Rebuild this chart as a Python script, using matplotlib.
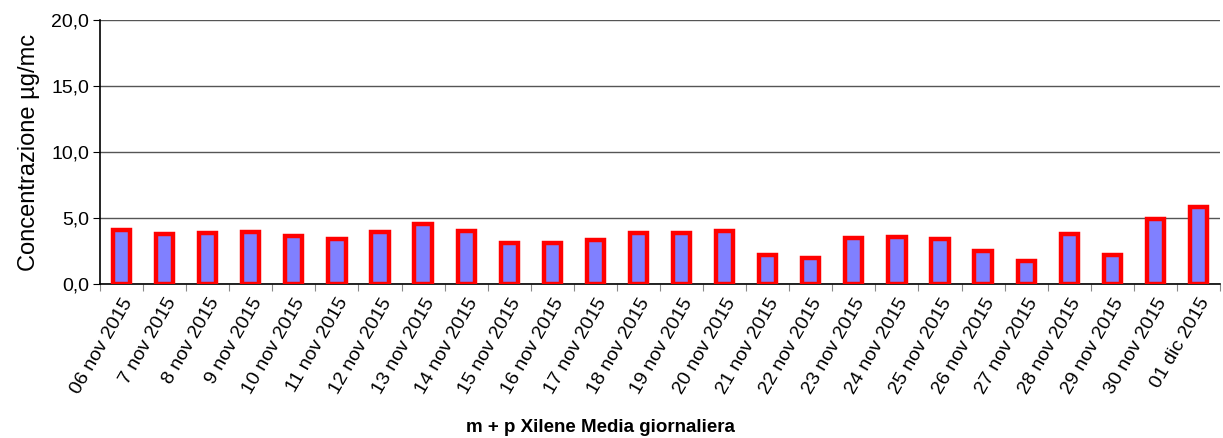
import matplotlib.pyplot as plt
import numpy as np

plt.rcParams['font.family'] = ['Liberation Sans', 'DejaVu Sans']

days = ["06 nov 2015", "7 nov 2015", "8 nov 2015", "9 nov 2015", "10 nov 2015",
        "11 nov 2015", "12 nov 2015", "13 nov 2015", "14 nov 2015", "15 nov 2015",
        "16 nov 2015", "17 nov 2015", "18 nov 2015", "19 nov 2015", "20 nov 2015",
        "21 nov 2015", "22 nov 2015", "23 nov 2015", "24 nov 2015", "25 nov 2015",
        "26 nov 2015", "27 nov 2015", "28 nov 2015", "29 nov 2015", "30 nov 2015",
        "01 dic 2015"]

values = [4.08, 3.78, 3.89, 3.93, 3.60, 3.40, 3.93, 4.53, 4.00, 3.14,
          3.09, 3.32, 3.85, 3.90, 4.03, 2.16, 1.98, 3.45, 3.58, 3.40,
          2.49, 1.78, 3.80, 2.21, 4.91, 5.82]

yticks = [0, 5, 10, 15, 20]
ytick_labels = ["0,0", "5,0", "10,0", "15,0", "20,0"]

fig = plt.figure(figsize=(12.23, 4.38), dpi=100)
ax = fig.add_axes([100 / 1223, 1 - 284 / 438, 1120 / 1223, 264 / 438])

x = np.arange(len(days))
ax.bar(x, values, width=0.4, color='#8080ff', edgecolor='#ff0000', linewidth=3.2, zorder=3)

ax.set_xlim(-0.5, len(days) - 0.5)
ax.set_ylim(0, 20)
ax.set_yticks(yticks)
ax.set_yticklabels(ytick_labels, fontsize=14)
ax.yaxis.grid(True, color='#555555', linewidth=1)
ax.set_axisbelow(True)

# ticks between categories, labels at bar centres
ax.set_xticks(np.arange(len(days) + 1) - 0.5)
ax.set_xticklabels([])
ax.set_xticks(x, minor=True)
ax.set_xticklabels(days, minor=True, rotation=60, ha='right', rotation_mode='anchor', fontsize=14)
ax.tick_params(axis='x', which='minor', length=0, pad=8)
ax.tick_params(axis='x', which='major', length=5, color='#888888')
ax.tick_params(axis='y', length=5, pad=3)

for s in ['top', 'right']:
    ax.spines[s].set_visible(False)
ax.spines['left'].set_linewidth(1.2)
ax.spines['bottom'].set_linewidth(1.2)

ax.set_ylabel("Concentrazione µg/mc", fontsize=17, labelpad=8)
fig.text(600 / 1223, 1 - 428 / 438, "m + p Xilene Media giornaliera",
         ha='center', va='center', fontsize=13.5, fontweight='bold')

fig.savefig("out.png", dpi=100)
